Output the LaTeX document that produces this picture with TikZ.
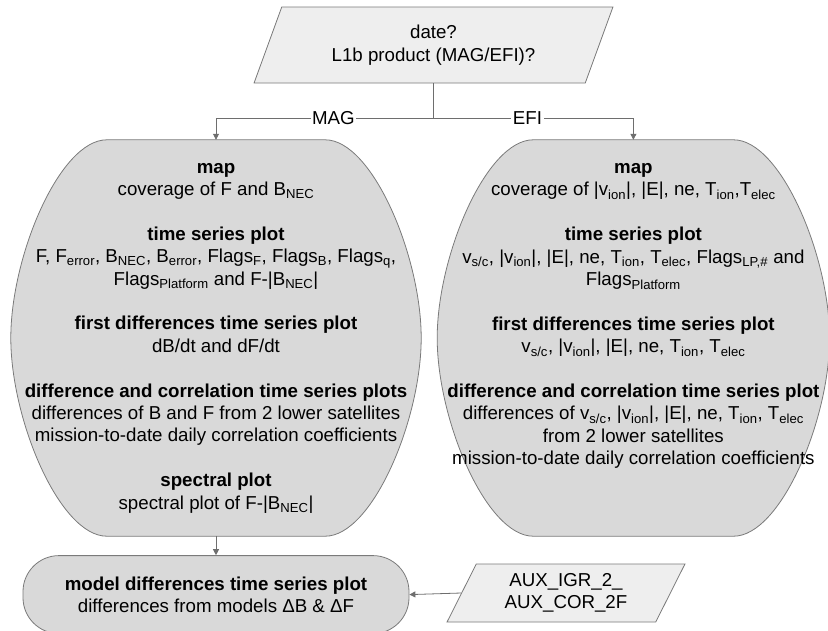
\documentclass[tikz,border=0pt]{standalone}
\usepackage{fontspec}
\setmainfont{Liberation Sans}
\usetikzlibrary{arrows.meta, positioning, calc, shapes.geometric}

\definecolor{edgegray}{HTML}{7A7A7A}
\definecolor{linkgray}{HTML}{6E6E6E}
\definecolor{palefill}{HTML}{EEEEEE}
\definecolor{greyfill}{HTML}{D9D9D9}

\tikzset{
	inputbox/.style={trapezium, trapezium stretches=true, draw=edgegray, line width=0.8pt, fill=palefill, align=center, inner sep=0pt},
	blobbox/.style={minimum height=396pt, inner sep=0pt, draw=none},
	bloboutline/.style={draw=edgegray, line width=0.8pt, fill=greyfill},
	bodytext/.style={align=center, inner sep=0pt},
	resultbox/.style={rounded corners=36pt, draw=edgegray, line width=0.8pt, fill=greyfill, minimum width=386pt, minimum height=78pt, align=center},
	link/.style={draw=linkgray, line width=0.8pt},
	branch/.style={fill=white, inner sep=1.5pt}
}

\begin{document}
\begin{tikzpicture}[x=1pt, y=1pt, >={Triangle[length=6pt,width=6pt]}, font=\fontsize{18.7}{22.4}\selectfont]
	\useasboundingbox (0,0) rectangle (828,-630);

	\node[inputbox, trapezium left angle=65, trapezium right angle=115, minimum width=359pt, minimum height=76pt] (query) at (433.5,-45) {date?\\L1b product (MAG/EFI)?};

	% the two groups of plots
	\node[blobbox, minimum width=410pt] (magbox) at (216,-338) {};
	\node[blobbox, minimum width=392pt, right=16pt of magbox] (efibox) {};
	\foreach \grp in {magbox, efibox}
		\draw[bloboutline] ($(\grp.north west)+(96,0)$) -- ($(\grp.north east)+(-96,0)$)
			.. controls ($(\grp.north east)+(-49,0)$) and ($(\grp.east)+(0,82)$) .. (\grp.east)
			.. controls ($(\grp.east)+(0,-82)$) and ($(\grp.south east)+(-49,0)$) .. ($(\grp.south east)+(-96,0)$)
			-- ($(\grp.south west)+(96,0)$)
			.. controls ($(\grp.south west)+(49,0)$) and ($(\grp.west)+(0,-82)$) .. (\grp.west)
			.. controls ($(\grp.west)+(0,82)$) and ($(\grp.north west)+(49,0)$) .. ($(\grp.north west)+(96,0)$) -- cycle;

	\node[bodytext] (magtxt) at (magbox) {\textbf{map}\\
		coverage of F and B\textsubscript{NEC}\\[22.4pt]
		\textbf{time series plot}\\
		F, F\textsubscript{error}, B\textsubscript{NEC}, B\textsubscript{error}, Flags\textsubscript{F}, Flags\textsubscript{B}, Flags\textsubscript{q},\\
		Flags\textsubscript{Platform} and F-|B\textsubscript{NEC}|\\[22.4pt]
		\textbf{first differences time series plot}\\
		dB/dt and dF/dt\\[22.4pt]
		\textbf{difference and correlation time series plots}\\
		differences of B and F from 2 lower satellites\\
		mission-to-date daily correlation coefficients\\[22.4pt]
		\textbf{spectral plot}\\
		spectral plot of F-|B\textsubscript{NEC}|};
	\node[bodytext] (efitxt) at ([yshift=22pt]efibox.center) {\textbf{map}\\
		coverage of |v\textsubscript{ion}|, |E|, ne, T\textsubscript{ion},T\textsubscript{elec}\\[22.4pt]
		\textbf{time series plot}\\
		v\textsubscript{s/c}, |v\textsubscript{ion}|, |E|, ne, T\textsubscript{ion}, T\textsubscript{elec}, Flags\textsubscript{LP,\#} and\\
		Flags\textsubscript{Platform}\\[22.4pt]
		\textbf{first differences time series plot}\\
		v\textsubscript{s/c}, |v\textsubscript{ion}|, |E|, ne, T\textsubscript{ion}, T\textsubscript{elec}\\[22.4pt]
		\textbf{difference and correlation time series plot}\\
		differences of v\textsubscript{s/c}, |v\textsubscript{ion}|, |E|, ne, T\textsubscript{ion}, T\textsubscript{elec}\\
		from 2 lower satellites\\
		mission-to-date daily correlation coefficients};

	\node[resultbox, below=19pt of magbox] (model) {\textbf{model differences time series plot}\\differences from models ΔB \& ΔF};
	\node[inputbox, trapezium left angle=63, trapezium right angle=117, minimum width=238pt, minimum height=58pt] (aux) at (566,-593) {AUX\_IGR\_2\_\\AUX\_COR\_2F};

	% connectors
	\draw[link] (query.south) -- ++(0,-35) coordinate (fork);
	\draw[link, ->] (fork) -| node[branch, pos=0.23] (maglabel) {MAG} (magbox.north);
	\draw[link, ->] (fork) -| node[branch, pos=0.235] (efilabel) {EFI} (efibox.north);
	\draw[link, ->] (magbox.south) -- (model.north);
	\draw[link, ->] (aux.left side) -- (model.east);
\end{tikzpicture}
\end{document}
